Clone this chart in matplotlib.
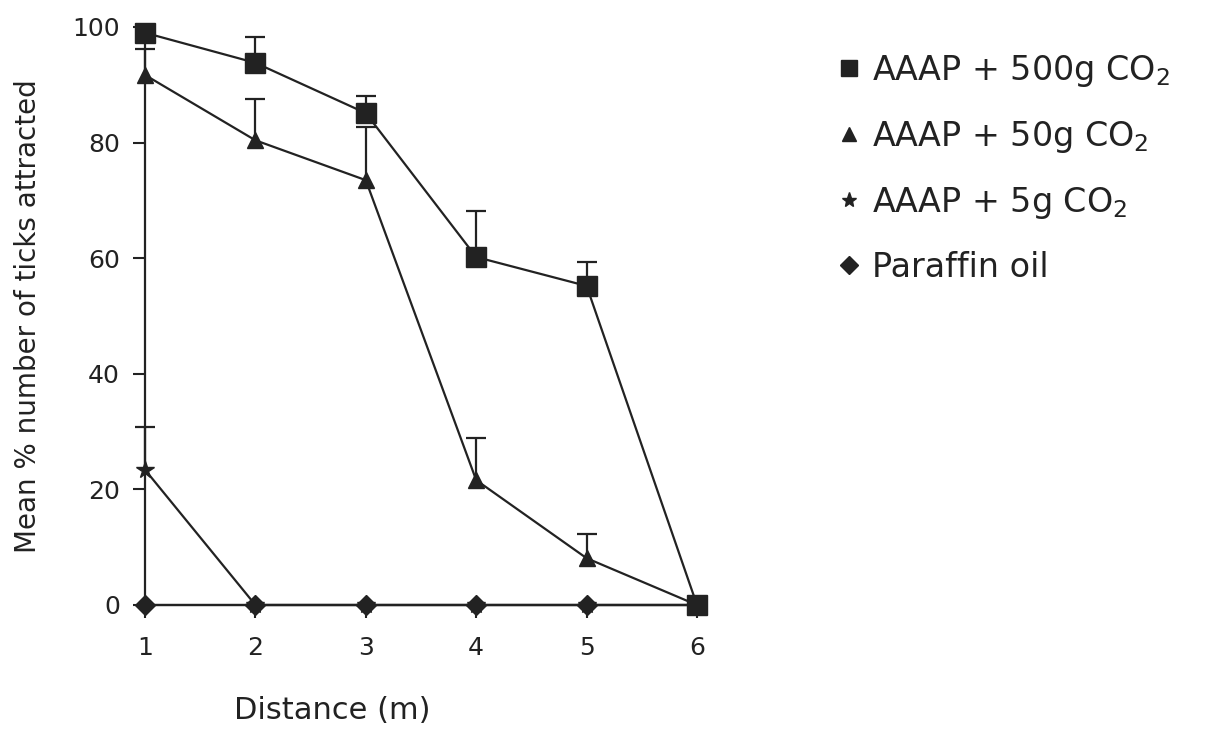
import matplotlib
matplotlib.use("Agg")
import matplotlib.pyplot as plt
from matplotlib.lines import Line2D
import numpy as np

# --- données ---
distance = [1, 2, 3, 4, 5, 6]

co2_500 = [99.0, 93.8, 85.1, 60.2, 55.2, 0.0]
co2_500_err = [1.0, 4.5, 3.0, 8.0, 4.1, 0.0]

co2_50 = [91.7, 80.4, 73.5, 21.6, 8.1, 0.0]
co2_50_err = [4.5, 7.1, 9.2, 7.3, 4.2, 0.0]

co2_5 = [23.4, 0.0, 0.0, 0.0, 0.0, 0.0]
co2_5_err = [7.4, 0.0, 0.0, 0.0, 0.0, 0.0]

paraffin = [0.0, 0.0, 0.0, 0.0, 0.0, 0.0]

labels = ["AAAP + 500g CO$_2$", "AAAP + 50g CO$_2$", "AAAP + 5g CO$_2$", "Paraffin oil"]
markers = ["s", "^", "*", "D"]

INK = "#222222"

plt.rcParams["font.family"] = "DejaVu Sans"
plt.rcParams["mathtext.fontset"] = "dejavusans"

fig = plt.figure(figsize=(12.08, 7.34), dpi=100)
ax = fig.add_axes([145 / 1208, 1 - 605 / 734, (697 - 145) / 1208, (605 - 27) / 734])

ms = [14, 12, 13, 10]
series = [(co2_500, co2_500_err), (co2_50, co2_50_err), (co2_5, co2_5_err), (paraffin, None)]
for (vals, err), mk, m in zip(series, markers, ms):
    if err is not None:
        yerr = [np.zeros(len(err)), err]
        eb = ax.errorbar(distance, vals, yerr=yerr, fmt="none", ecolor=INK,
                         elinewidth=1.6, capsize=7, capthick=1.6, clip_on=False, zorder=2)
        # seulement le chapeau du haut
        eb[1][0].set_visible(False)
    ax.plot(distance, vals, color=INK, lw=1.6, marker=mk, markersize=m,
            markerfacecolor=INK, markeredgecolor=INK, clip_on=False, zorder=3)

ax.set_xlim(1, 6)
ax.set_ylim(0, 100)
ax.set_xticks(distance)
ax.set_yticks([0, 20, 40, 60, 80, 100])

for s in ["top", "right"]:
    ax.spines[s].set_visible(False)
for s in ["left", "bottom"]:
    ax.spines[s].set_color(INK)
    ax.spines[s].set_linewidth(1.6)

ax.tick_params(axis="both", direction="out", length=9, width=1.5, color=INK,
               labelsize=18, labelcolor=INK)
ax.tick_params(axis="x", pad=13)
ax.tick_params(axis="y", pad=9)

ax.set_xlabel("Distance (m)", fontsize=22, color=INK, labelpad=26, x=0.339)
ax.set_ylabel("Mean % number of ticks attracted", fontsize=20, color=INK, labelpad=22)

handles = [Line2D([], [], ls="none", marker=mk, markersize=s, color=INK)
           for mk, s in zip(markers, [11, 10, 11, 9])]
fig.legend(handles, labels, loc="upper left", bbox_to_anchor=(822 / 1208, 1 - 36 / 734),
           frameon=False, fontsize=24, handlelength=0.6, handletextpad=0.4,
           labelspacing=0.9, borderpad=0, labelcolor=INK)

fig.savefig("out.png", dpi=100, facecolor="white")
